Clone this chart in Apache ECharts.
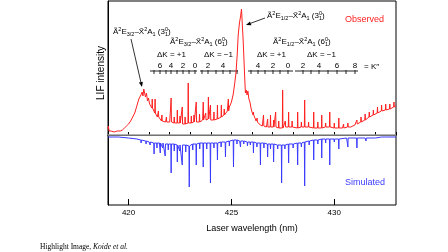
<!DOCTYPE html>
<html>
<head>
<meta charset="utf-8">
<script src="https://cdn.jsdelivr.net/npm/echarts@6/dist/echarts.min.js"></script>
<style>
  html, body { margin: 0; padding: 0; background: #fff; }
  #chart { width: 448px; height: 252px; }
</style>
</head>
<body>
<div id="chart"></div>
<script>
// observed spectrum: smooth background (wavelength nm, intensity a.u.)
var obsBaseX = [419.00, 419.02, 419.05, 419.15, 419.30, 419.45, 419.60, 419.70, 419.80, 419.90,
    420.00, 420.10, 420.20, 420.30, 420.40, 420.50, 420.60, 420.66, 420.70, 420.74, 420.78, 420.82,
    420.87, 420.92, 420.97, 421.02, 421.10, 421.20, 421.30, 421.40, 421.50, 421.60, 421.70, 421.80,
    421.90, 422.00, 422.20, 422.40, 422.60, 422.80, 423.00, 423.20, 423.40, 423.60, 423.80, 424.00,
    424.20, 424.40, 424.55, 424.70, 424.80, 424.90, 425.00, 425.08, 425.15, 425.22, 425.28, 425.33,
    425.39, 425.44, 425.49, 425.53, 425.57, 425.61, 425.65, 425.68, 425.72, 425.76, 425.80, 425.85,
    425.90, 425.95, 426.00, 426.10, 426.20, 426.30, 426.40, 426.50, 426.70, 427.00, 427.30, 427.60,
    428.00, 428.40, 428.80, 429.20, 429.60, 430.00, 430.40, 430.80, 431.00, 431.20, 431.40, 431.60,
    431.80, 432.00, 432.20, 432.40, 432.60, 432.80, 433.00];
var obsBaseY = [6, 9, 4, 4, 3, 4, 4, 5, 7, 9,
    11, 14, 18, 22, 29, 36, 40, 43, 39, 46, 47, 38,
    42, 34, 37, 31, 29, 25, 22, 18, 17, 14, 15, 13,
    12, 13, 12, 12, 11, 12, 13, 13, 14, 15, 16, 15,
    16, 17, 18, 22, 24, 28, 33, 40, 50, 62, 80, 100,
    112, 118, 126, 110, 95, 75, 55, 42, 45, 40, 44, 36,
    33, 27, 23, 18, 14, 11, 10, 9, 8, 8, 7, 8,
    7, 8, 7, 7, 8, 7, 7, 8, 10, 12, 14, 17,
    20, 21, 24, 25, 26, 27, 29];

// observed sharp lines: position, local background, top
var obsPeakX = [421.15, 421.29, 421.45, 421.62, 421.84, 422.07, 422.22, 422.37, 422.50, 422.61,
    422.75, 422.90, 423.05, 423.18, 423.29, 423.45, 423.63, 423.75, 423.88, 423.98,
    424.15, 424.32, 424.51, 424.65, 424.85, 426.07, 426.25, 426.56, 426.76, 426.90,
    427.05, 427.15, 427.30, 427.49, 427.62, 427.78, 427.95, 428.22, 428.40, 428.56,
    428.75, 429.00, 429.20, 429.39, 429.58, 429.78, 430.00, 430.22, 430.45, 430.66,
    431.10, 431.30, 431.50, 431.70, 431.90, 432.10, 432.30, 432.50, 432.70, 432.90];
var obsPeakBase = [27, 22, 18, 14, 13, 13, 12, 12, 12, 11,
    11, 12, 12, 13, 13, 13, 15, 15, 16, 15,
    15, 16, 18, 20, 24, 20, 13, 9, 8, 8,
    8, 8, 7, 7, 8, 8, 8, 7, 8, 8,
    8, 7, 7, 7, 8, 8, 7, 7, 7, 8,
    11, 13, 15, 18, 20, 22, 24, 25, 26, 28];
var obsPeakTop = [36, 36, 24, 20, 18, 37, 18, 25, 19, 28,
    18, 52, 19, 20, 33, 21, 33, 22, 38, 30,
    23, 30, 30, 26, 36, 23, 17, 20, 16, 20,
    15, 23, 14, 45, 14, 23, 14, 23, 13, 35,
    13, 23, 13, 20, 12, 23, 12, 17, 11, 12,
    15, 18, 21, 23, 25, 28, 30, 31, 31, 33];

// simulated spectrum (drawn downward)
var simBaseX = [419.0, 419.5, 420.0, 420.4, 420.7, 421.0, 421.5, 422.0, 422.5, 422.85,
    423.1, 423.5, 424.0, 424.5, 425.0, 425.4, 425.9, 426.4, 426.9, 427.3,
    427.8, 428.2, 428.6, 429.0, 429.5, 430.0, 430.6, 431.5, 432.3, 433.0];
var simBaseY = [-2, -2, -3, -4, -6, -7, -8, -9, -10, -11,
    -9, -8, -8, -7, -5, -6, -7, -8, -9, -10,
    -9, -8, -7, -5, -4, -4, -3, -3, -2, -2];
var simPeakX = [420.45, 420.61, 420.85, 421.05, 421.24, 421.38, 421.54, 421.66, 421.78, 421.93,
    422.07, 422.22, 422.37, 422.49, 422.61, 422.78, 422.95, 423.12, 423.29, 423.46,
    423.63, 423.80, 423.98, 424.15, 424.32, 424.50, 424.71, 424.90, 425.10, 425.27,
    425.44, 425.60, 425.78, 425.92, 426.07, 426.24, 426.41, 426.58, 426.76, 426.90,
    427.05, 427.25, 427.44, 427.60, 427.78, 428.00, 428.22, 428.40, 428.56, 428.78,
    429.00, 429.20, 429.39, 429.58, 429.78, 430.00, 430.22, 430.66, 431.10, 431.54,
    432.02, 432.51];
var simPeakBase = [-4, -5, -6, -7, -8, -8, -8, -8, -9, -9,
    -9, -9, -10, -10, -10, -10, -11, -9, -9, -8,
    -8, -8, -8, -8, -8, -7, -7, -6, -5, -5,
    -6, -6, -7, -7, -7, -8, -8, -8, -9, -9,
    -9, -10, -10, -10, -9, -9, -8, -8, -7, -6,
    -5, -5, -4, -4, -4, -4, -4, -3, -3, -3,
    -3, -2];
var simPeakTop = [-6, -8, -9, -10, -19, -13, -18, -13, -21, -15,
    -38, -16, -27, -16, -30, -17, -52, -15, -30, -14,
    -32, -14, -48, -13, -25, -12, -22, -11, -32, -9,
    -12, -9, -11, -10, -18, -12, -30, -13, -22, -14,
    -27, -14, -48, -14, -28, -13, -30, -12, -51, -10,
    -25, -9, -23, -8, -30, -7, -14, -12, -13, -6,
    -5, -4];

var xTicksMinor = [420, 421, 422, 423, 424, 425, 426, 427, 428, 429, 430, 431, 432, 433];
var xTicksMajor = [420, 425, 430];

function buildSpectrum(bx, by, px, pb, pt) {
    var pts = [];
    for (var i = 0; i < bx.length; i++) pts.push([bx[i], by[i]]);
    for (var j = 0; j < px.length; j++) {
        pts.push([px[j] - 0.015, pb[j]]);
        pts.push([px[j], pt[j]]);
        pts.push([px[j] + 0.015, pb[j]]);
    }
    pts.sort(function (a, b) { return a[0] - b[0]; });
    return pts;
}

var FONT = '"Liberation Sans", Arial, sans-serif';
var subRich = {
    sp: { fontSize: 5.5, lineHeight: 6, verticalAlign: 'top', fontFamily: FONT },
    sz: { fontSize: 5.5, lineHeight: 6, verticalAlign: 'top', width: 0, fontFamily: FONT },
    sb: { fontSize: 5.5, lineHeight: 6, verticalAlign: 'bottom', fontFamily: FONT }
};

function label(x, y, text, size, color, rich) {
    return {
        type: 'text', x: x, y: y, silent: true,
        style: {
            text: text, fontSize: size || 8, fontFamily: FONT, fill: color || '#000',
            align: 'left', verticalAlign: 'middle', lineHeight: 11, rich: rich || undefined
        }
    };
}

function band(x, y, half, vib) {
    return label(x, y, 'Ã{sp|2}E{sb|' + half + '}–X̃{sp|2}A{sb|1} (' + vib + '{sz|0}{sb|1})', 8, '#000', subRich);
}

function ladder(x0, x1, ticks, nums) {
    var els = [{ type: 'line', silent: true, shape: { x1: x0, y1: 71, x2: x1, y2: 71 },
        style: { stroke: '#222', lineWidth: 1 } }];
    ticks.forEach(function (t) {
        els.push({ type: 'line', silent: true, shape: { x1: t, y1: 70, x2: t, y2: 74 },
            style: { stroke: '#222', lineWidth: 1 } });
    });
    nums.forEach(function (n) {
        els.push({ type: 'text', silent: true, x: n[0], y: 66,
            style: { text: n[1], fontSize: 8, fontFamily: FONT, fill: '#000', align: 'center', verticalAlign: 'middle' } });
    });
    return els;
}

function arrow(x1, y1, x2, y2) {
    var a = Math.atan2(y2 - y1, x2 - x1), L = 5, w = 2;
    var bx = x2 - L * Math.cos(a), by = y2 - L * Math.sin(a);
    return [
        { type: 'line', silent: true, shape: { x1: x1, y1: y1, x2: bx, y2: by }, style: { stroke: '#000', lineWidth: 0.8 } },
        { type: 'polygon', silent: true, shape: { points: [[x2, y2],
            [bx + w * Math.sin(a), by - w * Math.cos(a)], [bx - w * Math.sin(a), by + w * Math.cos(a)]] },
            style: { fill: '#000' } }
    ];
}

var chart = echarts.init(document.getElementById('chart'), null, { renderer: 'canvas' });

var graphics = [].concat(
    [label(113, 32, '', 8)].slice(1),
    [band(113, 32, '3/2', '3'), band(170, 42, '3/2', '6'),
     band(267, 16, '1/2', '3'), band(273, 42, '1/2', '6')],
    [label(157, 55, 'ΔK = +1', 8), label(204, 55, 'ΔK = −1', 8),
     label(257, 55, 'ΔK = +1', 8), label(307, 55, 'ΔK = −1', 8),
     label(364, 67, '= K″', 8),
     label(345, 20, 'Observed', 9, '#ff2020'),
     label(345, 183, 'Simulated', 9, '#3a3aff')],
    ladder(150, 197, [154, 160, 166, 171, 177, 183, 189, 195], [[160, '6'], [171, '4'], [183, '2'], [195, '0']]),
    ladder(200, 238, [202, 208, 216, 223, 230, 237], [[208, '2'], [223, '4']]),
    ladder(248, 293, [251, 258, 265, 273, 280, 288], [[258, '4'], [273, '2'], [288, '0']]),
    ladder(295, 358, [303, 311, 319, 328, 337, 346, 355], [[303, '2'], [319, '4'], [337, '6'], [355, '8']]),
    arrow(131, 39, 142, 87),
    arrow(265, 18, 246, 25),
    [{ type: 'text', silent: true, x: 101, y: 73, rotation: Math.PI / 2,
        style: { text: 'LIF intensity', fontSize: 10, fontFamily: FONT, fill: '#000', align: 'center', verticalAlign: 'middle' } },
     { type: 'text', silent: true, x: 40, y: 247,
        style: { text: 'Highlight Image, {it|Koide et al.}', fontSize: 7.5, fontFamily: '"Liberation Serif", serif', fill: '#000',
            align: 'left', verticalAlign: 'middle',
            rich: { it: { fontStyle: 'italic', fontSize: 7.5, fontFamily: '"Liberation Serif", serif' } } } }]
);

var option = {
    animation: false,
    grid: { left: 108, right: 52, top: 1, bottom: 47, show: true, borderColor: '#000', borderWidth: 1 },
    xAxis: [{
        type: 'value', min: 419, max: 433, position: 'bottom',
        axisLine: { lineStyle: { color: '#000', width: 1 } },
        axisTick: { inside: true, length: 3, customValues: xTicksMinor, lineStyle: { color: '#000' } },
        axisLabel: { show: false },
        splitLine: { show: false },
        name: 'Laser wavelength (nm)', nameLocation: 'middle', nameGap: 19,
        nameTextStyle: { fontSize: 9, color: '#000', fontFamily: FONT }
    }, {
        type: 'value', min: 419, max: 433, position: 'bottom', offset: 0,
        axisLine: { show: false },
        axisTick: { inside: true, length: 6, customValues: xTicksMajor, lineStyle: { color: '#000' } },
        axisLabel: { customValues: xTicksMajor, fontSize: 8, color: '#000', margin: 4, fontFamily: FONT },
        splitLine: { show: false }
    }],
    yAxis: {
        type: 'value', min: -70, max: 134,
        axisLine: { show: true, lineStyle: { color: '#000' } },
        axisTick: { show: false }, axisLabel: { show: false }, splitLine: { show: false }
    },
    series: [{
        name: 'Simulated', type: 'line', showSymbol: false, sampling: false,
        data: buildSpectrum(simBaseX, simBaseY, simPeakX, simPeakBase, simPeakTop),
        lineStyle: { color: '#3a3aff', width: 1 }, silent: true,
        markLine: {
            silent: true, symbol: 'none', label: { show: false },
            lineStyle: { color: '#999', width: 1.5, type: 'solid' },
            data: [{ yAxis: 0 }]
        }
    }, {
        name: 'Observed', type: 'line', showSymbol: false,
        data: buildSpectrum(obsBaseX, obsBaseY, obsPeakX, obsPeakBase, obsPeakTop),
        lineStyle: { color: '#ff2020', width: 1 }, silent: true
    }],
    graphic: graphics
};

chart.setOption(option);
</script>
</body>
</html>
